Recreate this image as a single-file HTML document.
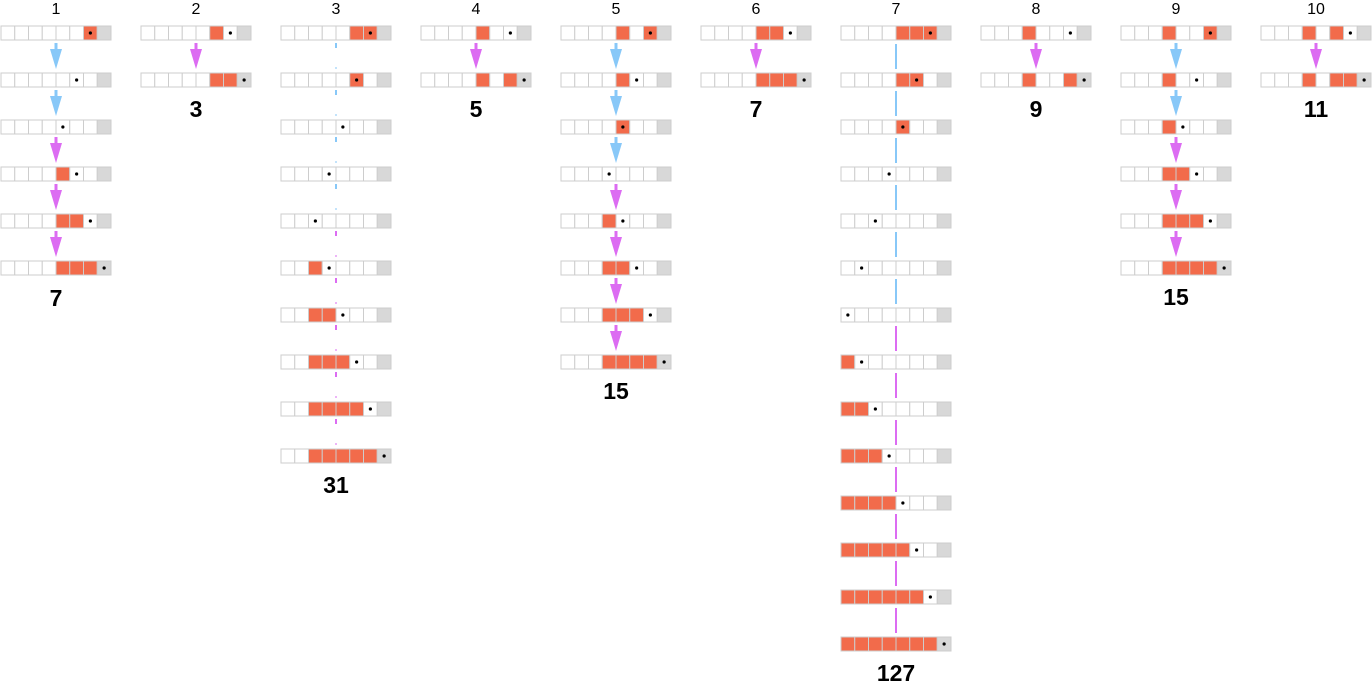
<!DOCTYPE html>
<html><head><meta charset="utf-8"><style>
body{margin:0;background:#fff;width:1372px;height:682px;overflow:hidden;position:relative;font-family:"Liberation Sans",sans-serif}
.t{position:absolute;top:0;width:40px;text-align:center;font-size:16px;line-height:20px;color:#000}
.l{position:absolute;width:60px;text-align:center;font-size:23px;font-weight:bold;line-height:24px;color:#000}
svg{position:absolute;left:0;top:0}
</style></head><body>
<svg id="s" width="1372" height="682"></svg>
<div class="t" style="left:36px">1</div>
<div class="t" style="left:176px">2</div>
<div class="t" style="left:316px">3</div>
<div class="t" style="left:456px">4</div>
<div class="t" style="left:596px">5</div>
<div class="t" style="left:736px">6</div>
<div class="t" style="left:876px">7</div>
<div class="t" style="left:1016px">8</div>
<div class="t" style="left:1156px">9</div>
<div class="t" style="left:1296px">10</div>
<div class="l" style="left:26px;top:286px">7</div>
<div class="l" style="left:166px;top:97px">3</div>
<div class="l" style="left:306px;top:473px">31</div>
<div class="l" style="left:446px;top:97px">5</div>
<div class="l" style="left:586px;top:379px">15</div>
<div class="l" style="left:726px;top:97px">7</div>
<div class="l" style="left:866px;top:661px">127</div>
<div class="l" style="left:1006px;top:97px">9</div>
<div class="l" style="left:1146px;top:285px">15</div>
<div class="l" style="left:1286px;top:97px">11</div>
<script>
var B='#88c8f8',P='#dc6cf2';
var cols=[
 {r:[[[6],6],[[],5],[[],4],[[4],5],[[4,5],6],[[4,5,6],7]],a:[B,B,P,P,P],m:'a'},
 {r:[[[5],6],[[5,6],7]],a:[P],m:'a'},
 {r:[[[5,6],6],[[5],5],[[],4],[[],3],[[],2],[[2],3],[[2,3],4],[[2,3,4],5],[[2,3,4,5],6],[[2,3,4,5,6],7]],a:[B,B,B,B,P,P,P,P,P],m:'s'},
 {r:[[[4],6],[[4,6],7]],a:[P],m:'a'},
 {r:[[[4,6],6],[[4],5],[[4],4],[[],3],[[3],4],[[3,4],5],[[3,4,5],6],[[3,4,5,6],7]],a:[B,B,B,P,P,P,P],m:'a'},
 {r:[[[4,5],6],[[4,5,6],7]],a:[P],m:'a'},
 {r:[[[4,5,6],6],[[4,5],5],[[4],4],[[],3],[[],2],[[],1],[[],0],[[0],1],[[0,1],2],[[0,1,2],3],[[0,1,2,3],4],[[0,1,2,3,4],5],[[0,1,2,3,4,5],6],[[0,1,2,3,4,5,6],7]],a:[B,B,B,B,B,B,P,P,P,P,P,P,P],m:'l'},
 {r:[[[3],6],[[3,6],7]],a:[P],m:'a'},
 {r:[[[3,6],6],[[3],5],[[3],4],[[3,4],5],[[3,4,5],6],[[3,4,5,6],7]],a:[B,B,P,P,P],m:'a'},
 {r:[[[3,5],6],[[3,5,6],7]],a:[P],m:'a'}
];
var h='',w=13.75;
cols.forEach(function(c,ci){
 var x0=ci*140+1;
 c.r.forEach(function(r,ri){
  var y=26+ri*47;
  for(var k=0;k<8;k++){
   var f=r[0].indexOf(k)>=0?'#f26b4b':(k==7?'#d8d8d8':'#fff');
   h+='<rect x="'+(x0+k*w)+'" y="'+y+'" width="'+w+'" height="14" fill="'+f+'" stroke="#cdcdcd" stroke-width="1"/>';
  }
  h+='<circle cx="'+(x0+r[1]*w+w/2)+'" cy="'+(y+7)+'" r="1.6" fill="#000"/>';
 });
 var ax=x0+55;
 c.a.forEach(function(col,i){
  var y=40+i*47;
  if(c.m=='a'){
   h+='<rect x="'+(ax-1.5)+'" y="'+(y+3)+'" width="3" height="8" fill="'+col+'"/>';
   h+='<polygon points="'+(ax-6)+','+(y+9)+' '+(ax+6)+','+(y+9)+' '+ax+','+(y+29)+'" fill="'+col+'"/>';
  }else if(c.m=='l'){
   h+='<rect x="'+(ax-1)+'" y="'+(y+4)+'" width="2" height="25" fill="'+col+'"/>';
  }else{
   h+='<rect x="'+(ax-1)+'" y="'+(y+3)+'" width="2" height="5" fill="'+col+'"/>';
   h+='<rect x="'+(ax-1)+'" y="'+(y+27)+'" width="2" height="2" fill="'+col+'" opacity=".5"/>';
  }
 });
});
document.getElementById('s').innerHTML=h;
</script>
</body></html>
